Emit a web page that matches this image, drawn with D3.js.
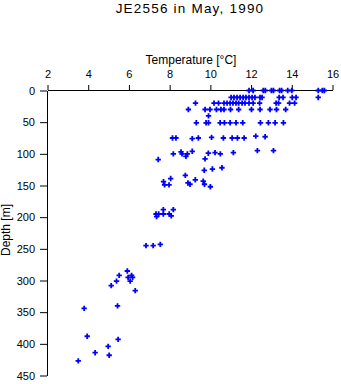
<!DOCTYPE html>
<html>
<head>
<meta charset="utf-8">
<script src="https://cdn.jsdelivr.net/npm/d3@7"></script>
<style>
  html, body { margin: 0; padding: 0; background: #fff; }
  svg { display: block; }
  text { font-family: "Liberation Sans", Arial, Helvetica, sans-serif; fill: #000; }
</style>
</head>
<body>
<svg id="chart" width="341" height="384"></svg>
<script>
// ---- data ----
const title = "JE2556 in May, 1990";
const xLabel = "Temperature [\u00B0C]";
const yLabel = "Depth [m]";
const xTicks = [2, 4, 6, 8, 10, 12, 14, 16];
const yTicks = [0, 50, 100, 150, 200, 250, 300, 350, 400, 450];

// temperature (°C) and depth (m), paired
const temperature = [
  11.9, 12.1, 12.6, 12.7, 13.0, 13.1, 13.4, 13.5, 13.8, 14.0, 15.3, 15.5, 15.6,
  11.02, 11.16, 11.31, 11.46, 11.61, 11.75, 11.9, 12.05, 12.19, 12.44, 12.54, 13.38, 13.57, 14.02, 14.21, 15.3,
  9.27, 10.18, 10.4, 10.67, 10.82, 10.97, 11.11, 11.26, 11.39, 11.56, 11.7, 11.9, 12.1, 12.42, 13.23, 13.35, 13.89, 14.14,
  8.92, 9.74, 9.98, 10.3, 10.52, 10.67, 10.99, 11.39, 12.02, 12.44, 12.93, 13.25, 13.7,
  9.91,
  9.31, 9.79, 9.91, 10.48, 10.69, 10.97, 11.26, 11.59, 12.46, 12.85, 13.18, 13.59,
  8.14, 8.31, 9.11, 9.41, 10.06, 10.64, 11.07, 11.33, 11.66, 12.23, 12.69,
  8.18, 8.56, 8.61, 8.87, 8.8, 9.11, 9.9, 10.23, 10.49, 11.13, 12.31, 13.1,
  7.44, 9.74,
  9.7, 10.1, 10.57,
  8.77, 8.05,
  7.7, 7.75, 7.97, 8.9, 9.0, 9.26, 9.65, 9.71, 10.0,
  7.69, 8.18,
  7.33, 7.46, 7.69, 7.98, 8.08, 7.36,
  6.84, 7.19, 7.54,
  5.92, 5.52, 6.13, 5.96, 6.18, 5.39, 6.06, 5.13, 6.31, 5.44, 3.8, 3.95, 5.47, 4.98, 4.34, 5.03, 3.51
];
const depth = [
  0, 0, 0, 0, 0, 0, 0, 0, 0, 0, 0, 0, 0,
  11, 11, 11, 11, 11, 11, 11, 11, 11, 11, 11, 11, 11, 11, 11, 11,
  20, 20, 20, 20, 20, 20, 20, 20, 20, 20, 20, 20, 20, 20, 20, 20, 20, 20,
  30, 30, 30, 30, 30, 30, 30, 30, 30, 30, 30, 30, 30,
  40,
  51, 51, 51, 51, 51, 51, 51, 51, 51, 51, 51, 51,
  75, 75, 76, 75, 74, 75, 75, 75, 75, 72, 73,
  100, 97, 100, 100, 104, 96, 99, 98, 100, 98, 95, 95,
  109, 108,
  126, 124, 122,
  134, 139,
  144, 149, 149, 146, 148, 141, 143, 148, 152,
  188, 188,
  195, 195, 195, 195, 198, 199,
  245, 245, 243,
  285, 292, 292, 295, 295, 301, 301, 308, 316, 340, 344, 388, 393, 404, 414, 418, 427
];

// ---- drawing ----
const svg = d3.select("#chart");
const x = d3.scaleLinear().domain([2, 16]).range([47.5, 332.5]);
const y = d3.scaleLinear().domain([0, 450]).range([90.5, 375.5]);

svg.append("text")
  .attr("x", 190).attr("y", 12.5)
  .attr("text-anchor", "middle")
  .style("font-size", "13.5px")
  .style("letter-spacing", "1.2px")
  .text(title);

svg.append("text")
  .attr("x", 191).attr("y", 64)
  .attr("text-anchor", "middle")
  .style("font-size", "12px")
  .text(xLabel);

svg.append("text")
  .attr("transform", "translate(10,230) rotate(-90)")
  .attr("text-anchor", "middle")
  .style("font-size", "12px")
  .text(yLabel);

const xAxis = svg.append("g")
  .attr("transform", "translate(0,90)")
  .call(d3.axisTop(x).tickValues(xTicks).tickSize(5).tickSizeOuter(0).tickPadding(7).tickFormat(d3.format("d")));

const yAxis = svg.append("g")
  .attr("transform", "translate(47,0)")
  .call(d3.axisLeft(y).tickValues(yTicks).tickSize(7).tickSizeOuter(0).tickPadding(5).tickFormat(d3.format("d")));

[xAxis, yAxis].forEach(g => {
  g.selectAll("path.domain").attr("stroke", "#000").attr("stroke-width", 1);
  g.selectAll(".tick line").attr("stroke", "#000").attr("stroke-width", 1);
  g.selectAll(".tick text")
    .style("font-family", "'Liberation Sans', Arial, sans-serif")
    .style("font-size", "11px")
    .attr("fill", "#000");
});

const points = temperature.map((t, i) => ({ t, d: depth[i] }));
const cross = d3.symbol().type(d3.symbolCross).size(16);
svg.append("g").selectAll("path")
  .data(points)
  .join("path")
  .attr("transform", p => `translate(${x(p.t)},${y(p.d)})`)
  .attr("d", cross)
  .attr("fill", "#0000ff");
</script>
</body>
</html>
